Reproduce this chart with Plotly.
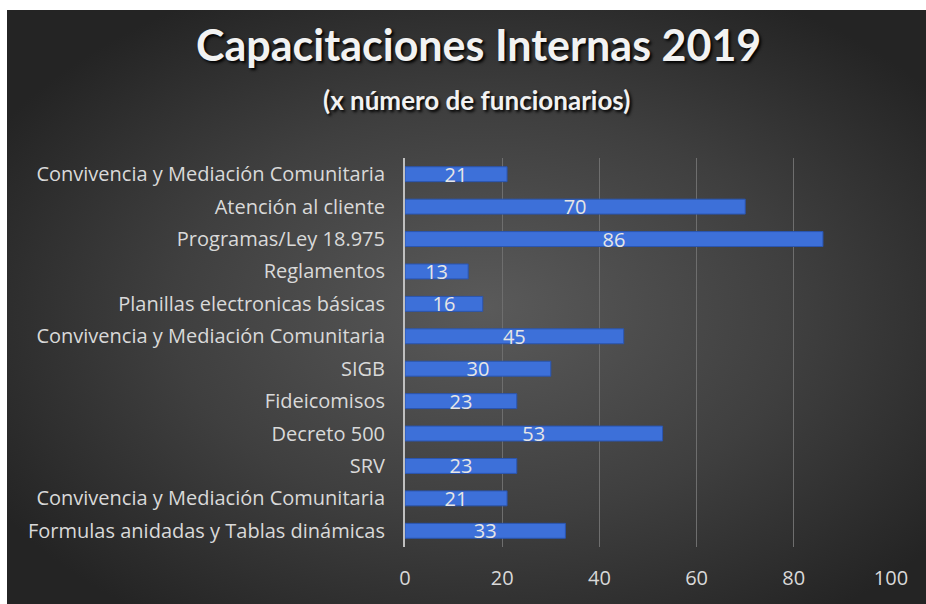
import base64
import plotly.graph_objects as go

categories = [
    "Convivencia y Mediación Comunitaria",
    "Atención al cliente",
    "Programas/Ley 18.975",
    "Reglamentos",
    "Planillas electronicas básicas",
    "Convivencia y Mediación Comunitaria",
    "SIGB",
    "Fideicomisos",
    "Decreto 500",
    "SRV",
    "Convivencia y Mediación Comunitaria",
    "Formulas anidadas y Tablas dinámicas",
]
values = [21, 70, 86, 13, 16, 45, 30, 23, 53, 23, 21, 33]
x_ticks = [0, 20, 40, 60, 80, 100]

title_text = "Capacitaciones Internas 2019"
subtitle_text = "(x número de funcionarios)"

positions = list(range(len(categories)))

W, H = 926, 604
ML, MR, MT, MB = 405, 35, 158, 57
PW, PH = W - ML - MR, H - MT - MB


def px(xp):
    return (xp - ML) / PW


def py(yp):
    return (H - MB - yp) / PH


BG_X0, BG_Y0 = 7, 10
svg = """<svg xmlns='http://www.w3.org/2000/svg' width='919' height='594' viewBox='0 0 919 594' preserveAspectRatio='none'>
<defs><radialGradient id='g' cx='52%' cy='52%' r='62%' fx='52%' fy='50%'>
<stop offset='0' stop-color='#5a5a5a'/>
<stop offset='0.55' stop-color='#3f3f3f'/>
<stop offset='1' stop-color='#242424'/>
</radialGradient></defs>
<rect width='919' height='594' fill='url(#g)'/></svg>"""
bg_uri = "data:image/svg+xml;base64," + base64.b64encode(svg.encode()).decode()

font_family = "Lato, 'Open Sans', sans-serif"
label_family = "'Open Sans', Lato, sans-serif"

fig = go.Figure()
fig.add_trace(go.Bar(
    x=values,
    y=positions,
    orientation="h",
    marker=dict(color="#3d70d9", line=dict(color="#2a55b0", width=1)),
    width=0.46,
    text=[str(v) for v in values],
    textposition="inside",
    insidetextanchor="middle",
    textangle=0,
    constraintext="none",
    textfont=dict(family=label_family, size=20, color="#e6e6e6"),
    hoverinfo="x+y",
))

fig.update_layout(
    width=W, height=H,
    margin=dict(l=ML, r=MR, t=MT, b=MB),
    paper_bgcolor="white",
    plot_bgcolor="rgba(0,0,0,0)",
    showlegend=False,
    images=[dict(
        source=bg_uri, xref="paper", yref="paper",
        x=px(BG_X0), y=py(BG_Y0),
        sizex=px(W) - px(BG_X0), sizey=py(BG_Y0) - py(H),
        xanchor="left", yanchor="top", sizing="stretch", layer="below",
    )],
    annotations=[
        dict(text="<b>" + title_text + "</b>", xref="paper", yref="paper",
             x=px(478), y=py(45),
             xanchor="center", yanchor="middle", showarrow=False,
             font=dict(family=font_family, size=43, color="#f2f2f2",
                       shadow="2px 2px 3px #000000")),
        dict(text="<b>" + subtitle_text + "</b>", xref="paper", yref="paper",
             x=px(476), y=py(100),
             xanchor="center", yanchor="middle", showarrow=False,
             font=dict(family=font_family, size=26, color="#f2f2f2",
                       shadow="2px 2px 3px #000000")),
    ],
    xaxis=dict(
        range=[0, 100], tickvals=x_ticks, ticktext=[str(t) for t in x_ticks],
        showgrid=True, gridcolor="#6e6e6e", gridwidth=1,
        zeroline=False, showline=False, ticks="",
        tickfont=dict(family=label_family, size=20, color="#d9d9d9"),
        ticklabelstandoff=17,
    ),
    yaxis=dict(
        tickvals=positions, ticktext=categories,
        range=[len(categories) - 0.5, -0.5],
        showgrid=False, zeroline=False,
        showline=True, linecolor="#bfbfbf", linewidth=2,
        ticks="", ticklabelstandoff=14,
        tickfont=dict(family=label_family, size=20, color="#d9d9d9"),
    ),
    bargap=0.54,
)

fig.write_html(
    "out.html",
    config={"displayModeBar": False},
    post_script="document.body.style.margin='0';document.body.style.overflow='hidden';",
)
